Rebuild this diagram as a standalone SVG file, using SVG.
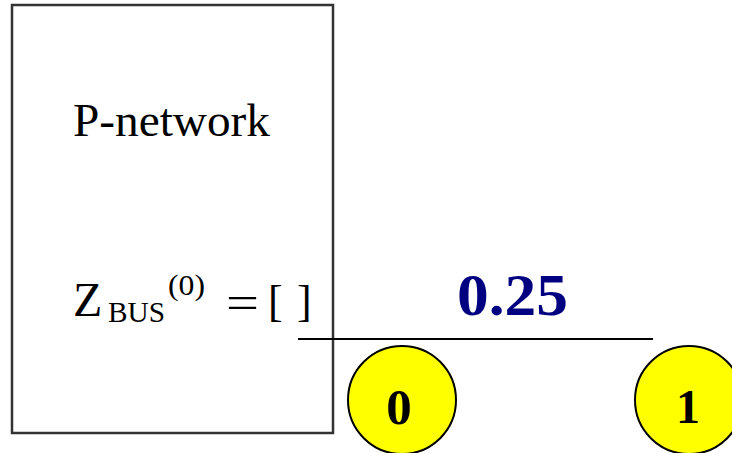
<svg xmlns="http://www.w3.org/2000/svg" width="732" height="453" viewBox="0 0 732 453">
<style>
.t{font-family:"Liberation Serif","Times New Roman",serif;fill:#000}
.b{font-family:"Liberation Serif","Times New Roman",serif;font-weight:bold}
.bus{fill:#ffff00;stroke:#000;stroke-width:2}
</style>
<rect width="732" height="453" fill="#fff"/>
<g id="p-network">
<rect x="12" y="5" width="321" height="428" fill="none" stroke="#333" stroke-width="2.5"/>
<text class="t" x="73" y="136" font-size="46" textLength="197" lengthAdjust="spacingAndGlyphs">P-network</text>
<text class="t" x="73" y="316" font-size="48">Z</text>
<text class="t" x="108" y="322" font-size="30" textLength="57" lengthAdjust="spacingAndGlyphs">BUS</text>
<text class="t" x="168" y="295" font-size="30" textLength="37" lengthAdjust="spacingAndGlyphs">(0)</text>
<text class="t" x="226" y="318" font-size="46" textLength="33" lengthAdjust="spacingAndGlyphs">=</text>
<text class="t" x="268" y="316" font-size="44">[</text>
<text class="t" x="297" y="316" font-size="44">]</text>
</g>
<g id="connectors">
<line x1="298" y1="339" x2="653" y2="339" stroke="#000" stroke-width="2"/>
<text class="b" x="457" y="315" font-size="60" fill="#000080" textLength="111" lengthAdjust="spacingAndGlyphs">0.25</text>
</g>
<g id="bus0">
<circle class="bus" cx="402" cy="400" r="54"/>
<text class="b" x="399" y="424" font-size="51" text-anchor="middle" fill="#000">0</text>
</g>
<g id="bus1">
<circle class="bus" cx="689" cy="400" r="54"/>
<text class="b" x="688" y="423" font-size="48" text-anchor="middle" fill="#000">1</text>
</g>
</svg>
